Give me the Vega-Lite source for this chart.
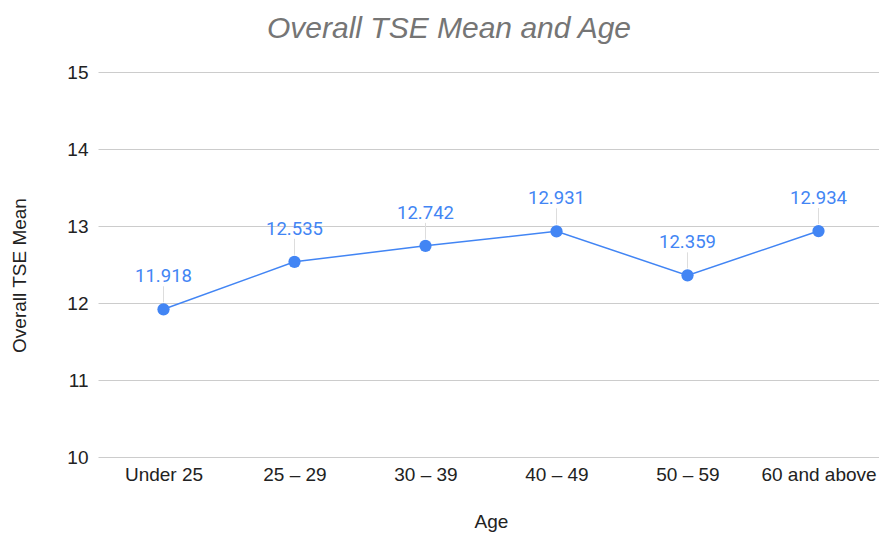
{
  "$schema": "https://vega.github.io/schema/vega-lite/v6.json",
  "width": 786,
  "height": 385,
  "autosize": {"type": "none"},
  "padding": {"left": 98, "top": 72, "right": 0, "bottom": 76},
  "background": "white",
  "config": {
    "view": {"stroke": null},
    "font": "Liberation Sans"
  },
  "title": {
    "text": "Overall TSE Mean and Age",
    "fontSize": 30,
    "fontStyle": "italic",
    "fontWeight": "normal",
    "color": "#757575",
    "font": "Liberation Sans",
    "anchor": "middle",
    "dx": -42,
    "offset": 19
  },
  "data": {
    "values": [
      {"age": "Under 25", "mean": 11.918},
      {"age": "25 – 29", "mean": 12.535},
      {"age": "30 – 39", "mean": 12.742},
      {"age": "40 – 49", "mean": 12.931},
      {"age": "50 – 59", "mean": 12.359},
      {"age": "60 and above", "mean": 12.934}
    ]
  },
  "encoding": {
    "x": {
      "field": "age",
      "type": "nominal",
      "sort": null,
      "scale": {"type": "point", "padding": 0.5},
      "axis": {
        "title": "Age",
        "labelAngle": 0,
        "labelFont": "Liberation Sans",
        "labelFontSize": 19,
        "labelColor": "#222222",
        "labelPadding": 8,
        "titleFont": "Liberation Sans",
        "titleFontSize": 19,
        "titleFontWeight": "normal",
        "titleColor": "#222222",
        "titlePadding": 28,
        "ticks": false,
        "domain": false,
        "grid": false
      }
    },
    "y": {
      "field": "mean",
      "type": "quantitative",
      "scale": {"domain": [10, 15], "zero": false, "nice": false},
      "axis": {
        "title": "Overall TSE Mean",
        "values": [10, 11, 12, 13, 14, 15],
        "labelFont": "Liberation Sans",
        "labelFontSize": 19,
        "labelColor": "#222222",
        "labelPadding": 10,
        "titleFont": "Liberation Sans",
        "titleFontSize": 19,
        "titleFontWeight": "normal",
        "titleColor": "#222222",
        "titlePadding": 37,
        "titleY": 203,
        "ticks": false,
        "domain": false,
        "gridColor": "#cccccc",
        "gridWidth": 1
      }
    }
  },
  "layer": [
    {
      "mark": {"type": "rule", "color": "#dddddd", "strokeWidth": 1, "yOffset": -7, "y2Offset": -23},
      "encoding": {"y2": {"field": "mean"}}
    },
    {
      "mark": {"type": "line", "color": "#4285F4", "strokeWidth": 1.5}
    },
    {
      "mark": {"type": "circle", "color": "#4285F4", "size": 150, "opacity": 1}
    },
    {
      "mark": {"type": "text", "color": "#4285F4", "fontSize": 18.5, "baseline": "alphabetic", "dy": -27, "font": "Roboto"},
      "encoding": {"text": {"field": "mean", "type": "quantitative", "format": ".3f"}}
    }
  ]
}
